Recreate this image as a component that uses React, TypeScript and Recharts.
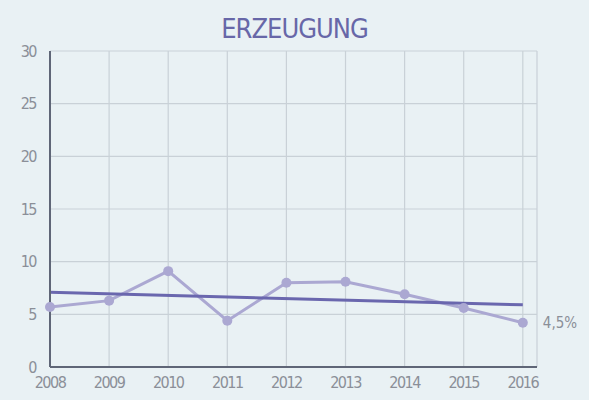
import React from "react";
import { LineChart, Line, XAxis, YAxis, CartesianGrid } from "recharts";

const years = [2008, 2009, 2010, 2011, 2012, 2013, 2014, 2015, 2016];
const erzeugung = [5.7, 6.3, 9.1, 4.4, 8.0, 8.1, 6.9, 5.6, 4.2];
const trend = [7.1, null, null, null, null, null, null, null, 5.9];
const yTicks = [0, 5, 10, 15, 20, 25, 30];
const title = "ERZEUGUNG";
const endLabel = "4,5%";

const data = years.map((y, i) => ({ year: y, value: erzeugung[i], trend: trend[i] }));

const tickStyle = { fill: "#8b8f98", fontSize: 16, fontFamily: "DejaVu Sans Condensed, DejaVu Sans", letterSpacing: -1.5 };

const EndLabel = (props: any) => {
  const { x, y, index } = props;
  if (index !== years.length - 1) return null;
  return (
    <text x={x + 20} y={y + 5} fill="#8b8f98" fontSize={15} fontFamily="DejaVu Sans Condensed, DejaVu Sans" letterSpacing={0}>
      {endLabel}
    </text>
  );
};

export default function App() {
  return (
    <div style={{ position: "absolute", left: 0, top: 0, width: 589, height: 400, background: "#e9f1f4", overflow: "hidden" }}>
      <div
        style={{
          position: "absolute",
          left: 0,
          width: 589,
          top: 14,
          textAlign: "center",
          color: "#6767a8",
          fontFamily: "DejaVu Sans Condensed, DejaVu Sans",
          fontSize: 27,
          letterSpacing: -1,
          lineHeight: "30px",
        }}
      >
        {title}
      </div>
      <LineChart width={589} height={400} data={data} margin={{ top: 51, right: 52, bottom: 0, left: 0 }}>
        <CartesianGrid stroke="#c9d1d7" strokeWidth={1.2} />
        <XAxis
          dataKey="year"
          type="number"
          domain={[2008, 2016.24]}
          ticks={years}
          tickLine={false}
          axisLine={{ stroke: "#5f6677", strokeWidth: 2 }}
          tick={tickStyle}
          tickMargin={4}
          height={33}
          allowDecimals={false}
        />
        <YAxis
          domain={[0, 30]}
          ticks={yTicks}
          tickLine={false}
          axisLine={{ stroke: "#5f6677", strokeWidth: 2 }}
          tick={tickStyle}
          tickMargin={8}
          width={50}
        />
        <Line
          dataKey="value"
          stroke="#aba8d2"
          strokeWidth={3}
          dot={{ r: 5, fill: "#aba8d2", stroke: "none" }}
          isAnimationActive={false}
          label={<EndLabel />}
        />
        <Line
          dataKey="trend"
          stroke="#6a67ae"
          strokeWidth={3}
          dot={false}
          connectNulls
          isAnimationActive={false}
        />
      </LineChart>
    </div>
  );
}
